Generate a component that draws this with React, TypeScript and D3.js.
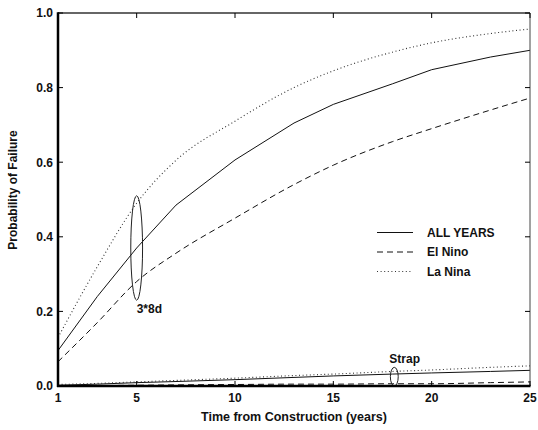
import React from "react";
import * as d3 from "d3";

const years = [1, 3, 5, 7, 10, 13, 15, 18, 20, 23, 25];
const allYears = [0.095, 0.24, 0.37, 0.485, 0.606, 0.705, 0.755, 0.81, 0.848, 0.882, 0.9];
const elNino = [0.065, 0.17, 0.28, 0.356, 0.45, 0.54, 0.592, 0.655, 0.69, 0.74, 0.772];
const laNina = [0.13, 0.32, 0.49, 0.605, 0.71, 0.8, 0.845, 0.895, 0.92, 0.945, 0.957];

const strapAll = [0.002, 0.005, 0.009, 0.012, 0.017, 0.023, 0.027, 0.032, 0.035, 0.039, 0.042];
const strapElNino = [0.0, 0.001, 0.002, 0.003, 0.004, 0.005, 0.005, 0.006, 0.006, 0.009, 0.011];
const strapLaNina = [0.004, 0.007, 0.011, 0.015, 0.021, 0.028, 0.032, 0.039, 0.043, 0.05, 0.054];

const xTicks = [1, 5, 10, 15, 20, 25];
const yTicks = [0, 0.2, 0.4, 0.6, 0.8, 1.0];
const legendLabels = ["ALL YEARS", "El Nino", "La Nina"];

const ellipseX = [5, 18.1];
const ellipseY = [0.37, 0.025];
const ellipseHalfX = [0.3, 0.2];
const ellipseHalfY = [0.14, 0.025];
const ellipseLabels = ["3*8d", "Strap"];

const W = 538;
const H = 430;
const L = 58, R = 530, T = 13, B = 386;
const FONT = "'Liberation Sans', Arial, sans-serif";

export default function App() {
  const x = d3.scaleLinear().domain([1, 25]).range([L, R]);
  const y = d3.scaleLinear().domain([0, 1]).range([B, T]);
  const line = (vals: number[], smooth: boolean) =>
    d3.line<number>().x((_, i) => x(years[i])).y((v) => y(v))
      .curve(smooth ? d3.curveMonotoneX : d3.curveLinear)(vals) || "";

  const styles = [
    { dash: undefined as string | undefined, color: "#111", width: 1, smooth: false },
    { dash: "6,4", color: "#111", width: 1, smooth: true },
    { dash: "1,2.6", color: "#333", width: 1.1, smooth: true },
  ];
  const series = [allYears, elNino, laNina];
  const strap = [strapAll, strapElNino, strapLaNina];

  return (
    <svg
      width={W}
      height={H}
      style={{ position: "absolute", left: 0, top: 0, background: "#fff" }}
      fontFamily={FONT}
      fontWeight="bold"
    >
      <rect x={0} y={0} width={W} height={H} fill="#fff" />
      {series.map((s, i) => (
        <path key={"m" + i} d={line(s, styles[i].smooth)} fill="none" stroke={styles[i].color}
          strokeWidth={styles[i].width} strokeDasharray={styles[i].dash} />
      ))}
      {strap.map((s, i) => (
        <path key={"s" + i} d={line(s, true)} fill="none" stroke={styles[i].color}
          strokeWidth={styles[i].width} strokeDasharray={styles[i].dash} />
      ))}

      {ellipseX.map((ex, i) => {
        const cx = x(ex);
        const cy = y(ellipseY[i]);
        const rx = x(ex + ellipseHalfX[i]) - cx;
        const ry = cy - y(ellipseY[i] + ellipseHalfY[i]);
        return (
          <g key={"e" + i}>
            <ellipse cx={cx} cy={cy} rx={rx} ry={ry} fill="none" stroke="#222" strokeWidth={1} />
            {i === 0 ? (
              <text x={cx} y={cy + ry + 13} fontSize={12} fill="#111">{ellipseLabels[i]}</text>
            ) : (
              <text x={cx - 5} y={cy - ry - 4} fontSize={12} fill="#111">{ellipseLabels[i]}</text>
            )}
          </g>
        );
      })}

      {/* frame */}
      <line x1={L} x2={R} y1={T} y2={T} stroke="#333" strokeWidth={1.5} />
      <line x1={R} x2={R} y1={T} y2={B} stroke="#444" strokeWidth={1} />
      <line x1={L} x2={L} y1={T - 0.75} y2={B + 1} stroke="#000" strokeWidth={2.5} />
      <line x1={L - 1} x2={R + 0.5} y1={B} y2={B} stroke="#000" strokeWidth={2.5} />

      {xTicks.map((t) => (
        <g key={"xt" + t}>
          <line x1={x(t)} x2={x(t)} y1={B} y2={B - 5} stroke="#000" strokeWidth={1} />
          <line x1={x(t)} x2={x(t)} y1={T} y2={T + 5} stroke="#000" strokeWidth={1} />
          <text x={x(t)} y={402} textAnchor="middle" fontSize={12} fill="#111">{t}</text>
        </g>
      ))}
      {yTicks.map((t) => (
        <g key={"yt" + t}>
          <line x1={L} x2={L + 5} y1={y(t)} y2={y(t)} stroke="#000" strokeWidth={1} />
          <line x1={R} x2={R - 5} y1={y(t)} y2={y(t)} stroke="#000" strokeWidth={1} />
          <text x={L - 5} y={y(t)} dy="0.36em" textAnchor="end" fontSize={12} fill="#111">{t.toFixed(1)}</text>
        </g>
      ))}

      <text x={(L + R) / 2} y={421} textAnchor="middle" fontSize={12.5} fill="#111">
        Time from Construction (years)
      </text>
      <text transform={`translate(17,190) rotate(-90)`} textAnchor="middle" fontSize={12} fill="#111">
        Probability of Failure
      </text>

      {legendLabels.map((lab, i) => {
        const ly = 232.5 + i * 19.5;
        return (
          <g key={"lg" + i}>
            <line x1={377} x2={413} y1={ly} y2={ly} stroke={styles[i].color}
              strokeWidth={styles[i].width} strokeDasharray={styles[i].dash} />
            <text x={427} y={ly} dy="0.36em" fontSize={12} fill="#111">{lab}</text>
          </g>
        );
      })}
    </svg>
  );
}
